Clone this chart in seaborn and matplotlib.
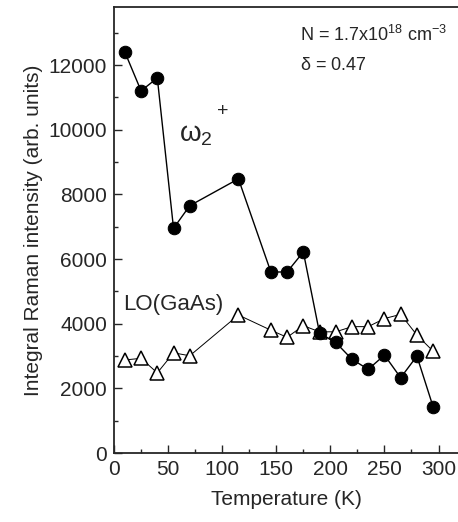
import numpy as np
import pandas as pd
import matplotlib
matplotlib.use("Agg")
import matplotlib.pyplot as plt
from matplotlib.ticker import MultipleLocator
import seaborn as sns

# --- DATA ---
temp_w2 = [10, 25, 40, 55, 70, 115, 145, 160, 175, 190, 205, 220, 235, 250, 265, 280, 295]
int_w2 = [12400, 11200, 11600, 6950, 7650, 8480, 5600, 5600, 6220, 3710, 3420, 2900, 2590, 3030, 2330, 3000, 1430]

temp_lo = [10, 25, 40, 55, 70, 115, 145, 160, 175, 190, 205, 220, 235, 250, 265, 280, 295]
int_lo = [2880, 2930, 2480, 3100, 3010, 4270, 3800, 3580, 3940, 3750, 3750, 3910, 3910, 4160, 4290, 3650, 3150]

df_w2 = pd.DataFrame({"T": temp_w2, "I": int_w2})
df_lo = pd.DataFrame({"T": temp_lo, "I": int_lo})

# --- STYLE ---
sns.set_style("ticks")
plt.rcParams['font.family'] = ['Liberation Sans', 'DejaVu Sans']
plt.rcParams['mathtext.fontset'] = 'custom'
plt.rcParams['mathtext.rm'] = 'Liberation Sans'
plt.rcParams['mathtext.it'] = 'Liberation Sans'

fig = plt.figure(figsize=(4.58, 5.22), dpi=100)
ax = fig.add_axes([0.249, 0.132, 0.751, 0.855])

sns.lineplot(data=df_lo, x="T", y="I", ax=ax, color="black", lw=0.7,
             marker="^", markersize=10, markerfacecolor="white",
             markeredgecolor="black", markeredgewidth=1.1)
sns.lineplot(data=df_w2, x="T", y="I", ax=ax, color="black", lw=1.0,
             marker="o", markersize=9, markerfacecolor="black",
             markeredgecolor="black")

ax.set_xlim(0, 318)
ax.set_ylim(0, 13800)
ax.xaxis.set_major_locator(MultipleLocator(50))
ax.xaxis.set_minor_locator(MultipleLocator(25))
ax.yaxis.set_major_locator(MultipleLocator(2000))
ax.yaxis.set_minor_locator(MultipleLocator(1000))
ax.tick_params(which="both", direction="in", labelsize=15, width=1.0, pad=5)
ax.tick_params(which="major", length=6)
ax.tick_params(which="minor", length=3)
ax.spines["right"].set_visible(False)
for s in ["left", "bottom", "top"]:
    ax.spines[s].set_linewidth(1.3)

ax.set_xlabel("Temperature (K)", fontsize=15, labelpad=8)
ax.set_ylabel("Integral Raman intensity (arb. units)", fontsize=15, labelpad=4)

ax.text(172, 12930, r"N = 1.7x10$^{18}$ cm$^{-3}$", fontsize=13, ha="left", va="center")
ax.text(172, 12000, r"$\delta$ = 0.47", fontsize=13, ha="left", va="center")
ax.text(60, 9850, r"$\omega_2$", fontsize=20, ha="left", va="center")
ax.text(95, 10550, "+", fontsize=14, ha="left", va="center")
ax.text(8, 4600, "LO(GaAs)", fontsize=16, ha="left", va="center")

plt.savefig("out.png", dpi=100)
